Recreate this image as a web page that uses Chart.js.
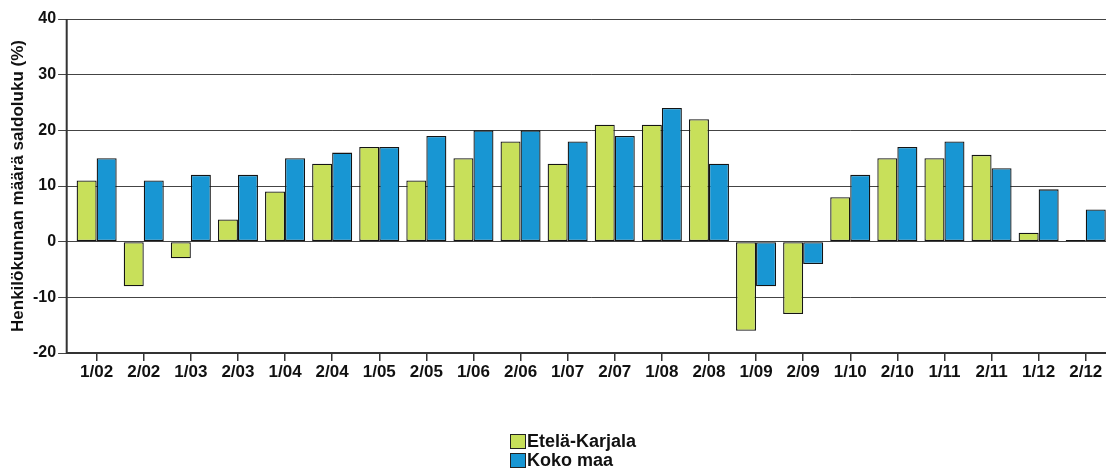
<!DOCTYPE html>
<html>
<head>
<meta charset="utf-8">
<title>Henkilökunnan määrä saldoluku</title>
<script src="https://cdn.jsdelivr.net/npm/chart.js@4/dist/chart.umd.min.js"></script>
<style>
	html, body { margin: 0; padding: 0; background: #fff; overflow: hidden; }
	#wrap { position: relative; width: 1112px; height: 475px; }
	#legend { position: absolute; left: 510px; top: 432px; font: bold 18px "Liberation Sans", Arial, sans-serif; color: #111; }
	#legend .item { height: 19px; line-height: 19px; white-space: nowrap; }
	#legend .box { display: inline-block; width: 16px; height: 15px; border: 1px solid #222; vertical-align: -2px; margin-right: 1px; box-sizing: border-box; }
</style>
</head>
<body>
<div id="wrap">
	<canvas id="chart"></canvas>
	<div id="legend"></div>
</div>
<script>
const periods = ['1/02','2/02','1/03','2/03','1/04','2/04','1/05','2/05','1/06','2/06','1/07',
	'2/07','1/08','2/08','1/09','2/09','1/10','2/10','1/11','2/11','1/12','2/12'];
const southKarelia = [11, -8, -3, 4, 9, 14, 17, 11, 15, 18, 14, 21, 21, 22, -16, -13, 8, 15, 15, 15.6, 1.6, 0.3];
const wholeCountry = [15, 11, 12, 12, 15, 16, 17, 19, 20, 20, 18, 19, 24, 14, -8, -4, 12, 17, 18, 13.2, 9.4, 5.8];
const seriesNames = ['Etelä-Karjala', 'Koko maa'];
const yMin = -20;
const yMax = 40;
const yStep = 10;

const font = '"Liberation Sans", Arial, sans-serif';

window.addEventListener('load', function(){
	drawChart();
});

// axis lines sit a few px left of the plot, like the original
const axisLines = {
	id: 'axisLines',
	afterDraw: function(chart){
		let a = chart.chartArea;
		let ctx = chart.ctx;
		let x = a.left - 6.4;
		ctx.save();
		ctx.strokeStyle = '#333';
		ctx.lineWidth = 2;
		ctx.beginPath();
		ctx.moveTo(x, a.top);
		ctx.lineTo(x, a.bottom);
		ctx.lineTo(a.right, a.bottom);
		ctx.stroke();
		ctx.restore();
	}
};

function drawChart(){
	let ctx = document.getElementById('chart');

	let dataChart = {
		labels: periods,
		datasets: [{
			label: seriesNames[0],
			data: southKarelia,
			backgroundColor: '#c8e05a',
			borderColor: '#141414',
			borderWidth: 1.3,
			borderSkipped: false,
			inflateAmount: 0
		},{
			label: seriesNames[1],
			data: wholeCountry,
			backgroundColor: '#1896d3',
			borderColor: '#141414',
			borderWidth: 1.3,
			borderSkipped: false,
			inflateAmount: 0
		}]
	};

	let chart = new Chart(ctx, {
		type: 'bar',
		data: dataChart,
		plugins: [axisLines],
		options: {
			responsive: true,
			maintainAspectRatio: false,
			animation: false,
			categoryPercentage: 0.85,
			barPercentage: 1.0,
			layout: {
				padding: { left: 8.3, right: 2.7, top: 19, bottom: 92.6 }
			},
			plugins: {
				legend: { display: false },
				tooltip: { enabled: false }
			},
			scales: {
				x: {
					offset: true,
					grid: {
						offset: false,
						drawOnChartArea: false,
						drawTicks: true,
						tickLength: 8,
						tickColor: '#333',
						lineWidth: 1.5
					},
					border: { display: false },
					ticks: {
						autoSkip: false,
						maxRotation: 0,
						padding: 1,
						color: '#111',
						font: { family: font, size: 17, weight: 'bold' }
					},
					afterFit: function(scale){ scale.height = 29.4; }
				},
				y: {
					min: yMin,
					max: yMax,
					ticks: {
						stepSize: yStep,
						padding: 2,
						color: '#111',
						font: { family: font, size: 16, weight: 'bold' }
					},
					grid: {
						color: '#444',
						lineWidth: 1,
						tickLength: 15,
						tickColor: '#444'
					},
					border: { display: false },
					title: {
						display: true,
						text: 'Henkilökunnan määrä saldoluku (%)',
						color: '#111',
						padding: 0,
						font: { family: font, size: 17, weight: 'bold' }
					},
					afterFit: function(scale){ scale.width = 64.8; }
				}
			}
		}
	});

	buildLegend(chart);
}

function buildLegend(chart){
	let box = document.getElementById('legend');
	chart.data.datasets.forEach(function(ds){
		let row = document.createElement('div');
		row.className = 'item';
		let sw = document.createElement('span');
		sw.className = 'box';
		sw.style.background = ds.backgroundColor;
		row.appendChild(sw);
		row.appendChild(document.createTextNode(ds.label));
		box.appendChild(row);
	});
}
</script>
</body>
</html>
